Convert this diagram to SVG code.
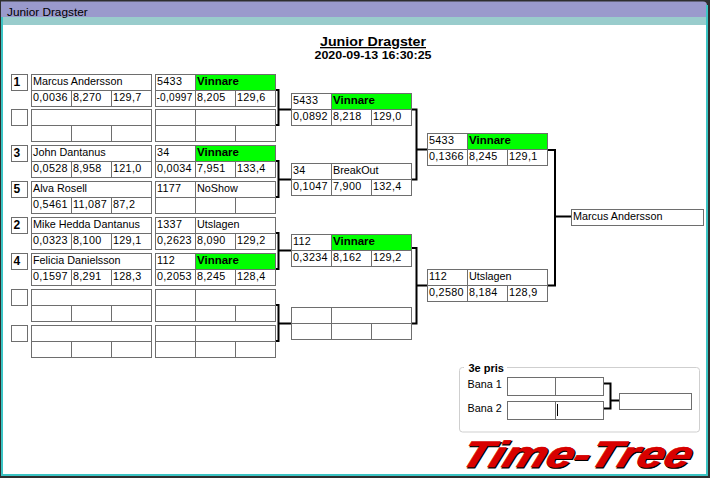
<svg xmlns="http://www.w3.org/2000/svg" width="710" height="478" viewBox="0 0 710 478">
<style>
.c{fill:#fff;stroke:#6e6e6e;stroke-width:1}
.g{fill:#00ff00;stroke:#6e6e6e;stroke-width:1}
.t{font-family:"Liberation Sans",Arial,sans-serif;font-size:10.8px;fill:#000}
.n{font-family:"Liberation Sans",Arial,sans-serif;font-size:10.8px;letter-spacing:0.3px;fill:#000}
.b{font-family:"Liberation Sans",Arial,sans-serif;font-size:11.5px;font-weight:bold;fill:#000}
.s{font-family:"Liberation Sans",Arial,sans-serif;font-size:12px;font-weight:bold;fill:#000}
.k{fill:none;stroke:#000;stroke-width:2}
</style>
<!-- window chrome -->
<rect x="0" y="0" width="710" height="478" fill="#2e2e2e"/>
<path d="M1,1.5 H703 Q707,1.5 707,5.5 V17 H1 Z" fill="#9a9acc"/>
<rect x="1" y="17" width="706" height="8" fill="#99cccc"/>
<rect x="1" y="17" width="2" height="459" fill="#3cc4c4"/>
<rect x="706" y="5" width="2" height="471" fill="#3cc4c4"/>
<rect x="1" y="474" width="707" height="2" fill="#3cc4c4"/>
<rect x="3" y="25" width="703" height="449" fill="#fff"/>
<text x="7" y="16" font-family="'Segoe UI','Liberation Sans',Arial,sans-serif" font-size="11.8px" fill="#000">Junior Dragster</text>
<!-- header -->
<g id="header">
<text x="373" y="46" text-anchor="middle" font-family="'Liberation Sans',Arial,sans-serif" font-size="13px" font-weight="bold" text-decoration="underline" textLength="106" lengthAdjust="spacingAndGlyphs">Junior Dragster</text>
<text x="373" y="58.5" text-anchor="middle" font-family="'Liberation Sans',Arial,sans-serif" font-size="11.5px" font-weight="bold" textLength="117" lengthAdjust="spacingAndGlyphs">2020-09-13 16:30:25</text>
</g>
<!-- connectors -->
<g id="connectors" class="k">
<path d="M275,90 H278.5 V125 H275 M278.5,109.5 H291"/>
<path d="M275,161 H278.5 V197 H275 M278.5,179.5 H291"/>
<path d="M275,233 H278.5 V269 H275 M278.5,250.5 H291"/>
<path d="M275,305 H278.5 V341 H275 M278.5,323.5 H291"/>
<path d="M411,109.5 H416.5 V179.5 H411 M416.5,149.5 H427"/>
<path d="M411,248 H416.5 V323.5 H411 M416.5,285.5 H427"/>
<path d="M547,150 H555 V285.5 H547 M555,216.5 H571"/>
<path d="M603,383.5 H610.5 V408.5 H603 M610.5,400.5 H619"/>
</g>
<!-- round 1 entries -->
<g id="entry1">
<rect class="c" x="11.5" y="74.5" width="16" height="16"/><text class="s" x="13.5" y="85.5">1</text>
<rect class="c" x="31.5" y="74.5" width="120" height="16"/>
<rect class="c" x="31.5" y="90.5" width="40" height="16"/><rect class="c" x="71.5" y="90.5" width="40" height="16"/><rect class="c" x="111.5" y="90.5" width="40" height="16"/>
<text class="t" x="33" y="85">Marcus Andersson</text>
<text class="n" x="33" y="101">0,0036</text><text class="n" x="73" y="101">8,270</text><text class="n" x="113" y="101">129,7</text>
</g>
<g id="match1a">
<rect class="c" x="155.5" y="74.5" width="40" height="16"/><rect class="g" x="195.5" y="74.5" width="80" height="16"/>
<rect class="c" x="155.5" y="90.5" width="40" height="16"/><rect class="c" x="195.5" y="90.5" width="40" height="16"/><rect class="c" x="235.5" y="90.5" width="40" height="16"/>
<text class="n" x="157" y="85">5433</text><text class="b" x="197" y="85">Vinnare</text>
<text class="n" x="156.5" y="101" textLength="36" lengthAdjust="spacingAndGlyphs">-0,0997</text><text class="n" x="197" y="101">8,205</text><text class="n" x="237" y="101">129,6</text>
</g>
<g id="entry2">
<rect class="c" x="11.5" y="109.5" width="16" height="16"/>
<rect class="c" x="31.5" y="109.5" width="120" height="16"/>
<rect class="c" x="31.5" y="125.5" width="40" height="16"/><rect class="c" x="71.5" y="125.5" width="40" height="16"/><rect class="c" x="111.5" y="125.5" width="40" height="16"/>
</g>
<g id="match1b">
<rect class="c" x="155.5" y="109.5" width="40" height="16"/><rect class="c" x="195.5" y="109.5" width="80" height="16"/>
<rect class="c" x="155.5" y="125.5" width="40" height="16"/><rect class="c" x="195.5" y="125.5" width="40" height="16"/><rect class="c" x="235.5" y="125.5" width="40" height="16"/>
</g>
<g id="entry3">
<rect class="c" x="11.5" y="145.5" width="16" height="16"/><text class="s" x="13.5" y="156.5">3</text>
<rect class="c" x="31.5" y="145.5" width="120" height="16"/>
<rect class="c" x="31.5" y="161.5" width="40" height="16"/><rect class="c" x="71.5" y="161.5" width="40" height="16"/><rect class="c" x="111.5" y="161.5" width="40" height="16"/>
<text class="t" x="33" y="156">John Dantanus</text>
<text class="n" x="33" y="172">0,0528</text><text class="n" x="73" y="172">8,958</text><text class="n" x="113" y="172">121,0</text>
</g>
<g id="match2a">
<rect class="c" x="155.5" y="145.5" width="40" height="16"/><rect class="g" x="195.5" y="145.5" width="80" height="16"/>
<rect class="c" x="155.5" y="161.5" width="40" height="16"/><rect class="c" x="195.5" y="161.5" width="40" height="16"/><rect class="c" x="235.5" y="161.5" width="40" height="16"/>
<text class="n" x="157" y="156">34</text><text class="b" x="197" y="156">Vinnare</text>
<text class="n" x="157" y="172">0,0034</text><text class="n" x="197" y="172">7,951</text><text class="n" x="237" y="172">133,4</text>
</g>
<g id="entry5">
<rect class="c" x="11.5" y="181.5" width="16" height="16"/><text class="s" x="13.5" y="192.5">5</text>
<rect class="c" x="31.5" y="181.5" width="120" height="16"/>
<rect class="c" x="31.5" y="197.5" width="40" height="16"/><rect class="c" x="71.5" y="197.5" width="40" height="16"/><rect class="c" x="111.5" y="197.5" width="40" height="16"/>
<text class="t" x="33" y="192">Alva Rosell</text>
<text class="n" x="33" y="208">0,5461</text><text class="n" x="73" y="208">11,087</text><text class="n" x="113" y="208">87,2</text>
</g>
<g id="match2b">
<rect class="c" x="155.5" y="181.5" width="40" height="16"/><rect class="c" x="195.5" y="181.5" width="80" height="16"/>
<rect class="c" x="155.5" y="197.5" width="40" height="16"/><rect class="c" x="195.5" y="197.5" width="40" height="16"/><rect class="c" x="235.5" y="197.5" width="40" height="16"/>
<text class="n" x="157" y="192">1177</text><text class="t" x="197" y="192">NoShow</text>
</g>
<g id="entry2s">
<rect class="c" x="11.5" y="217.5" width="16" height="16"/><text class="s" x="13.5" y="228.5">2</text>
<rect class="c" x="31.5" y="217.5" width="120" height="16"/>
<rect class="c" x="31.5" y="233.5" width="40" height="16"/><rect class="c" x="71.5" y="233.5" width="40" height="16"/><rect class="c" x="111.5" y="233.5" width="40" height="16"/>
<text class="t" x="33" y="228">Mike Hedda Dantanus</text>
<text class="n" x="33" y="244">0,0323</text><text class="n" x="73" y="244">8,100</text><text class="n" x="113" y="244">129,1</text>
</g>
<g id="match3a">
<rect class="c" x="155.5" y="217.5" width="40" height="16"/><rect class="c" x="195.5" y="217.5" width="80" height="16"/>
<rect class="c" x="155.5" y="233.5" width="40" height="16"/><rect class="c" x="195.5" y="233.5" width="40" height="16"/><rect class="c" x="235.5" y="233.5" width="40" height="16"/>
<text class="n" x="157" y="228">1337</text><text class="t" x="197" y="228">Utslagen</text>
<text class="n" x="157" y="244">0,2623</text><text class="n" x="197" y="244">8,090</text><text class="n" x="237" y="244">129,2</text>
</g>
<g id="entry4">
<rect class="c" x="11.5" y="253.5" width="16" height="16"/><text class="s" x="13.5" y="264.5">4</text>
<rect class="c" x="31.5" y="253.5" width="120" height="16"/>
<rect class="c" x="31.5" y="269.5" width="40" height="16"/><rect class="c" x="71.5" y="269.5" width="40" height="16"/><rect class="c" x="111.5" y="269.5" width="40" height="16"/>
<text class="t" x="33" y="264">Felicia Danielsson</text>
<text class="n" x="33" y="280">0,1597</text><text class="n" x="73" y="280">8,291</text><text class="n" x="113" y="280">128,3</text>
</g>
<g id="match3b">
<rect class="c" x="155.5" y="253.5" width="40" height="16"/><rect class="g" x="195.5" y="253.5" width="80" height="16"/>
<rect class="c" x="155.5" y="269.5" width="40" height="16"/><rect class="c" x="195.5" y="269.5" width="40" height="16"/><rect class="c" x="235.5" y="269.5" width="40" height="16"/>
<text class="n" x="157" y="264">112</text><text class="b" x="197" y="264">Vinnare</text>
<text class="n" x="157" y="280">0,2053</text><text class="n" x="197" y="280">8,245</text><text class="n" x="237" y="280">128,4</text>
</g>
<g id="entry7">
<rect class="c" x="11.5" y="289.5" width="16" height="16"/>
<rect class="c" x="31.5" y="289.5" width="120" height="16"/>
<rect class="c" x="31.5" y="305.5" width="40" height="16"/><rect class="c" x="71.5" y="305.5" width="40" height="16"/><rect class="c" x="111.5" y="305.5" width="40" height="16"/>
</g>
<g id="match4a">
<rect class="c" x="155.5" y="289.5" width="40" height="16"/><rect class="c" x="195.5" y="289.5" width="80" height="16"/>
<rect class="c" x="155.5" y="305.5" width="40" height="16"/><rect class="c" x="195.5" y="305.5" width="40" height="16"/><rect class="c" x="235.5" y="305.5" width="40" height="16"/>
</g>
<g id="entry8">
<rect class="c" x="11.5" y="325.5" width="16" height="16"/>
<rect class="c" x="31.5" y="325.5" width="120" height="16"/>
<rect class="c" x="31.5" y="341.5" width="40" height="16"/><rect class="c" x="71.5" y="341.5" width="40" height="16"/><rect class="c" x="111.5" y="341.5" width="40" height="16"/>
</g>
<g id="match4b">
<rect class="c" x="155.5" y="325.5" width="40" height="16"/><rect class="c" x="195.5" y="325.5" width="80" height="16"/>
<rect class="c" x="155.5" y="341.5" width="40" height="16"/><rect class="c" x="195.5" y="341.5" width="40" height="16"/><rect class="c" x="235.5" y="341.5" width="40" height="16"/>
</g>
<!-- round 2 -->
<g id="r2a">
<rect class="c" x="291.5" y="93.5" width="40" height="16"/><rect class="g" x="331.5" y="93.5" width="80" height="16"/>
<rect class="c" x="291.5" y="109.5" width="40" height="16"/><rect class="c" x="331.5" y="109.5" width="40" height="16"/><rect class="c" x="371.5" y="109.5" width="40" height="16"/>
<text class="n" x="293" y="104">5433</text><text class="b" x="333" y="104">Vinnare</text>
<text class="n" x="293" y="120">0,0892</text><text class="n" x="333" y="120">8,218</text><text class="n" x="373" y="120">129,0</text>
</g>
<g id="r2b">
<rect class="c" x="291.5" y="163.5" width="40" height="16"/><rect class="c" x="331.5" y="163.5" width="80" height="16"/>
<rect class="c" x="291.5" y="179.5" width="40" height="16"/><rect class="c" x="331.5" y="179.5" width="40" height="16"/><rect class="c" x="371.5" y="179.5" width="40" height="16"/>
<text class="n" x="293" y="174">34</text><text class="t" x="333" y="174">BreakOut</text>
<text class="n" x="293" y="190">0,1047</text><text class="n" x="333" y="190">7,900</text><text class="n" x="373" y="190">132,4</text>
</g>
<g id="r2c">
<rect class="c" x="291.5" y="234.5" width="40" height="16"/><rect class="g" x="331.5" y="234.5" width="80" height="16"/>
<rect class="c" x="291.5" y="250.5" width="40" height="16"/><rect class="c" x="331.5" y="250.5" width="40" height="16"/><rect class="c" x="371.5" y="250.5" width="40" height="16"/>
<text class="n" x="293" y="245">112</text><text class="b" x="333" y="245">Vinnare</text>
<text class="n" x="293" y="261">0,3234</text><text class="n" x="333" y="261">8,162</text><text class="n" x="373" y="261">129,2</text>
</g>
<g id="r2d">
<rect class="c" x="291.5" y="307.5" width="40" height="16"/><rect class="c" x="331.5" y="307.5" width="80" height="16"/>
<rect class="c" x="291.5" y="323.5" width="40" height="16"/><rect class="c" x="331.5" y="323.5" width="40" height="16"/><rect class="c" x="371.5" y="323.5" width="40" height="16"/>
</g>
<!-- round 3 -->
<g id="r3a">
<rect class="c" x="427.5" y="133.5" width="40" height="16"/><rect class="g" x="467.5" y="133.5" width="80" height="16"/>
<rect class="c" x="427.5" y="149.5" width="40" height="16"/><rect class="c" x="467.5" y="149.5" width="40" height="16"/><rect class="c" x="507.5" y="149.5" width="40" height="16"/>
<text class="n" x="429" y="144">5433</text><text class="b" x="469" y="144">Vinnare</text>
<text class="n" x="429" y="160">0,1366</text><text class="n" x="469" y="160">8,245</text><text class="n" x="509" y="160">129,1</text>
</g>
<g id="r3b">
<rect class="c" x="427.5" y="269.5" width="40" height="16"/><rect class="c" x="467.5" y="269.5" width="80" height="16"/>
<rect class="c" x="427.5" y="285.5" width="40" height="16"/><rect class="c" x="467.5" y="285.5" width="40" height="16"/><rect class="c" x="507.5" y="285.5" width="40" height="16"/>
<text class="n" x="429" y="280">112</text><text class="t" x="469" y="280">Utslagen</text>
<text class="n" x="429" y="296">0,2580</text><text class="n" x="469" y="296">8,184</text><text class="n" x="509" y="296">128,9</text>
</g>
<!-- final -->
<g id="final">
<rect class="c" x="571.5" y="209.5" width="132" height="16"/>
<text class="t" x="573" y="220">Marcus Andersson</text>
</g>
<!-- 3e pris -->
<g id="third">
<rect x="459.5" y="367.5" width="240" height="64.5" rx="3" fill="none" stroke="#cfcfcf" stroke-width="1"/>
<rect x="464" y="362" width="43" height="10" fill="#fff"/>
<text x="468.5" y="371.5" font-family="'Liberation Sans',Arial,sans-serif" font-size="11px" font-weight="bold">3e pris</text>
<text class="t" x="467.5" y="387.5">Bana 1</text>
<text class="t" x="467.5" y="412">Bana 2</text>
<rect class="c" x="507.5" y="377.5" width="48" height="18"/><rect class="c" x="555.5" y="377.5" width="48" height="18"/>
<rect class="c" x="507.5" y="401.5" width="48" height="18"/><rect class="c" x="555.5" y="401.5" width="48" height="18"/>
<line x1="557.5" y1="404" x2="557.5" y2="416" stroke="#000" stroke-width="1"/>
<rect class="c" x="619.5" y="393.5" width="72" height="16"/>
</g>
<!-- logo -->
<g id="logo" transform="translate(458,466.5) skewX(-20)" font-family="'Liberation Sans',Arial,sans-serif" font-size="37px" font-weight="bold" font-style="italic">
<text x="1.4" y="1" fill="#000" stroke="#000" stroke-width="1" textLength="230" lengthAdjust="spacingAndGlyphs">Time-Tree</text>
<text x="0" y="0" fill="#d80000" stroke="#d80000" stroke-width="0.6" textLength="230" lengthAdjust="spacingAndGlyphs">Time-Tree</text>
</g>
</svg>
